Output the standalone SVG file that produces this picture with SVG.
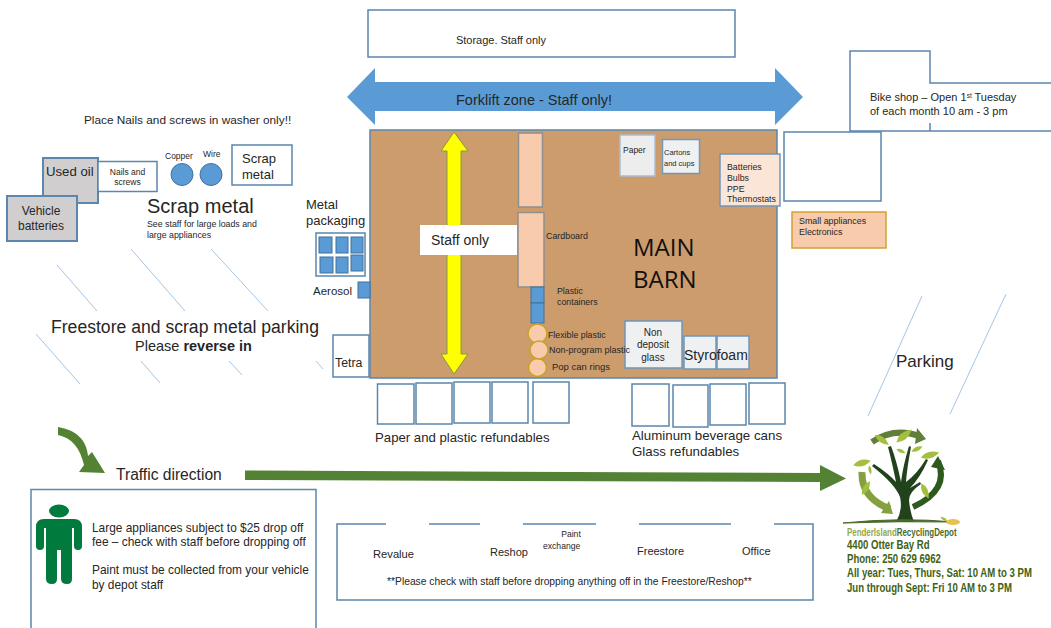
<svg xmlns="http://www.w3.org/2000/svg" width="1051" height="628" viewBox="0 0 1051 628">
<style>
text{font-family:"Liberation Sans",Arial,sans-serif;fill:#262626}
.b{fill:#fff;stroke:#5b86ad;stroke-width:1.5}
.g{fill:#d0cece;stroke:#5b86ad;stroke-width:2}
.l{fill:#ededed;stroke:#a9bccf;stroke-width:1.5}
.lb{fill:#eef0f2;stroke:#6f97ba;stroke-width:1.5}
.p{fill:#f8cbad;stroke:#8f8f8f;stroke-width:1.5}
.c{fill:#f8cbad;stroke:#c9a227;stroke-width:1.5}
.blue{fill:#5b9bd5;stroke:#41719c;stroke-width:1}
.h{stroke:#a4c5e6;stroke-width:1;fill:none}
.addr{font-weight:bold;fill:#3f6212;font-size:12px}
.big{font-family:"Open Sans",sans-serif;font-size:24px;fill:#111}
</style>
<defs><path id="leaf" d="M-10,0 Q-1,-7 10,0 Q-1,7 -10,0 Z" fill="#a4bf3f"/></defs>
<g id="storage"><rect class="b" x="368" y="10" width="367" height="47"/><text x="456" y="44" font-size="11" textLength="90">Storage. Staff only</text></g>
<g id="forklift"><polygon points="347,97 375,68 375,82 775,82 775,68 803,97 775,125 775,111 375,111 375,125" fill="#5b9bd5"/><text x="456" y="105" font-size="14.500">Forklift zone - Staff only!</text></g>
<g id="bike-shop"><polyline class="b" points="1051,131 850,131 850,51 930,51 930,83 1051,83"/><line x1="930" y1="123" x2="930" y2="131" stroke="#5b86ad" stroke-width="1.5"/><text x="870" y="101" font-size="11">Bike shop – Open 1<tspan font-size="6.5" dy="-3">st</tspan><tspan dy="3"> Tuesday</tspan></text><text x="870" y="115" font-size="11">of each month 10 am - 3 pm</text></g>
<g id="annex"><rect class="b" x="784" y="132" width="97" height="69"/></g>
<g id="main-barn"><rect x="370" y="130" width="407" height="248" fill="#cc9c6c" stroke="#5b86ad" stroke-width="1.5"/><text class="big" x="633" y="256">MAIN</text><text class="big" x="633" y="288">BARN</text></g>
<g id="staff-only-arrow"><polygon points="454,132 468,151 461,151 461,354 468,354 454,374 441,354 447,354 447,151 441,151" fill="#ffff00" stroke="#8a9a3a" stroke-width="1"/></g>
<g id="staff-only"><rect x="420" y="225" width="97" height="30" fill="#fff"/><text x="431" y="245" font-size="14">Staff only</text></g>
<g id="cardboard"><rect class="p" x="518.500" y="133" width="24" height="74"/><rect class="p" x="518" y="212.500" width="26" height="74.500"/><text x="546" y="239" font-size="8.900">Cardboard</text></g>
<g id="plastic-containers"><rect class="blue" x="531" y="287" width="13" height="16"/><rect class="blue" x="531" y="303" width="13" height="20"/><text x="557" y="294" font-size="8.800">Plastic</text><text x="557" y="305" font-size="8.800">containers</text></g>
<g id="flexible-plastic"><circle class="c" cx="537.500" cy="333.500" r="9.500"/><text x="548" y="338" font-size="8.800">Flexible plastic</text></g>
<g id="pop-can-rings"><circle class="c" cx="537.500" cy="367.500" r="9"/><text x="552" y="370" font-size="9.500">Pop can rings</text></g>
<g id="paper"><rect class="l" x="620" y="135" width="35" height="41"/><text x="623" y="153" font-size="8.500">Paper</text></g>
<g id="cartons"><rect class="lb" x="662.500" y="139.500" width="37" height="34"/><text x="664" y="155" font-size="7.500">Cartons</text><text x="664" y="166" font-size="7.500">and cups</text></g>
<g id="batteries"><rect x="720" y="154" width="60" height="52" fill="#fbe5d6" stroke="#6f97ba" stroke-width="1.500"/><text x="727" y="170" font-size="8.800">Batteries</text><text x="727" y="181" font-size="8.800">Bulbs</text><text x="727" y="192" font-size="8.800">PPE</text><text x="727" y="202" font-size="8.800">Thermostats</text></g>
<g id="small-appliances"><rect x="792" y="212" width="94" height="36" fill="#f8cbad" stroke="#d6a02f" stroke-width="1.500"/><text x="799" y="224" font-size="8.900">Small appliances</text><text x="799" y="235" font-size="8.900">Electronics</text></g>
<g id="non-deposit"><rect class="lb" x="625" y="321" width="57" height="47"/><text x="653" y="336" font-size="10" text-anchor="middle">Non</text><text x="653" y="348" font-size="10" text-anchor="middle">deposit</text><text x="653" y="361" font-size="10" text-anchor="middle">glass</text></g>
<g id="non-program"><circle class="c" cx="539" cy="350" r="9"/><text x="549" y="353" font-size="9">Non-program plastic</text></g>
<g id="styrofoam"><rect class="lb" x="684" y="336" width="32" height="33"/><rect class="lb" x="717" y="336" width="32" height="33"/><text x="684" y="360" font-size="14">Styrofoam</text></g>
<g id="metal-packaging"><text x="306" y="209" font-size="13">Metal</text><text x="306" y="225" font-size="13">packaging</text><rect class="b" x="316" y="233" width="49" height="43"/>
<g><rect class="blue" x="319" y="237" width="13" height="16"/><rect class="blue" x="336" y="237" width="12" height="16"/><rect class="blue" x="351" y="237" width="12" height="16"/><rect class="blue" x="320" y="257" width="13" height="16"/><rect class="blue" x="336" y="257" width="12" height="16"/><rect class="blue" x="351" y="255" width="12" height="16"/></g></g>
<g id="aerosol"><rect class="blue" x="358" y="282" width="12" height="16"/><text x="313" y="295" font-size="11.500">Aerosol</text></g>
<g id="tetra"><rect class="b" x="333" y="335" width="36" height="42"/><text x="335" y="367" font-size="12.300">Tetra</text></g>
<g id="refundable-bins"><rect class="b" x="377.500" y="384" width="36.500" height="40"/><rect class="b" x="416" y="383" width="36" height="41"/><rect class="b" x="454" y="382" width="36" height="41"/><rect class="b" x="492" y="382" width="36" height="41"/><rect class="b" x="533" y="382" width="36" height="41"/><rect class="b" x="632" y="384" width="37" height="42"/><rect class="b" x="673" y="385" width="35" height="42"/><rect class="b" x="710" y="384" width="36" height="41"/><rect class="b" x="749" y="383" width="36" height="41"/></g>
<text x="375" y="442" font-size="13.200">Paper and plastic refundables</text>
<text x="632" y="440" font-size="13.300">Aluminum beverage cans</text>
<text x="632" y="456" font-size="13.300">Glass refundables</text>
<text x="84" y="124" font-size="11.800">Place Nails and screws in washer only!!</text>
<g id="used-oil"><rect class="g" x="43" y="158" width="55" height="45"/><text x="46" y="176" font-size="13.200">Used oil</text></g>
<g id="nails"><rect class="b" x="98" y="161.500" width="59" height="30"/><text x="127.500" y="175" font-size="8.500" text-anchor="middle">Nails and</text><text x="127.500" y="185" font-size="8.500" text-anchor="middle">screws</text></g>
<g id="vehicle-batteries"><rect class="g" x="7" y="196" width="70" height="45"/><text x="41" y="215" font-size="12" text-anchor="middle">Vehicle</text><text x="41" y="230" font-size="12" text-anchor="middle">batteries</text></g>
<g id="copper"><circle class="blue" cx="182" cy="174.500" r="11"/><text x="165" y="159" font-size="8.500">Copper</text></g>
<g id="wire"><circle class="blue" cx="211" cy="174.500" r="11"/><text x="203" y="157" font-size="8.500">Wire</text></g>
<g id="scrap-metal-box"><rect class="b" x="232" y="145" width="60" height="40"/><text x="242" y="163" font-size="13">Scrap</text><text x="242" y="179" font-size="13">metal</text></g>
<text x="147" y="213" font-size="20">Scrap metal</text>
<text x="147" y="227" font-size="8.800">See staff for large loads and</text>
<text x="147" y="238" font-size="8.800">large appliances</text>
<text x="51" y="333" font-size="17.600">Freestore and scrap metal parking</text>
<text x="135" y="351" font-size="14.500">Please <tspan font-weight="bold">reverse in</tspan></text>
<g id="connectors" class="h"><line x1="57" y1="265" x2="97" y2="311"/><line x1="131" y1="249" x2="185" y2="311"/><line x1="211" y1="249" x2="268" y2="311"/><line x1="36" y1="334" x2="80" y2="384"/><line x1="141" y1="361" x2="160" y2="383"/><line x1="229" y1="361" x2="242" y2="375"/><line x1="316" y1="361" x2="323" y2="369"/><line x1="922" y1="296" x2="868" y2="416"/><line x1="1006" y1="294" x2="950" y2="414"/>
<path d="M58,427 C76,430 87,440 88,456 L92,452 L105,473 L79,472 L84,465 C80,448 72,438 58,435 Z" fill="#548235" stroke="none"/>
<polygon points="245,470.500 820,473 820,465 846,478.500 820,491 820,482 245,480" fill="#548235" stroke="none"/></g>
<text x="896" y="367" font-size="17">Parking</text>
<text x="116" y="480" font-size="15.600">Traffic direction</text>
<g id="notice"><polyline class="b" points="31,628 31,489.500 316,489.500 316,628"/>
<g fill="#007a3d"><ellipse cx="59" cy="511" rx="10" ry="6.500"/><path d="M44,519 H74 Q82,519 82,527 V546 Q82,550 78,550 Q74,550 74,546 V528 H72 V579 Q72,584 67,584 Q61,584 61,579 V550 H57 V579 Q57,584 52,584 Q46,584 46,579 V528 H44 V546 Q44,550 40,550 Q36,550 36,546 V527 Q36,519 44,519 Z"/></g>
<text x="92" y="532" font-size="11.900">Large appliances subject to $25 drop off</text><text x="92" y="546" font-size="11.900">fee – check with staff before dropping off</text><text x="92" y="574" font-size="11.900">Paint must be collected from your vehicle</text><text x="92" y="589" font-size="11.900">by depot staff</text></g>
<g id="buildings"><path d="M386,524 H337 V600 H813 V524 H774 M429,524 H480 M523,524 H596 M639,524 H731" fill="none" stroke="#5b86ad" stroke-width="1.500"/>
<text x="373" y="558" font-size="11.200">Revalue</text><text x="490" y="556" font-size="11">Reshop</text><text x="571" y="537" font-size="8.600" text-anchor="middle">Paint</text><text x="543" y="549" font-size="8.600">exchange</text><text x="637" y="555" font-size="11">Freestore</text><text x="742" y="555" font-size="11">Office</text><text x="387" y="585" font-size="10.300">**Please check with staff before dropping anything off in the Freestore/Reshop**</text></g>
<g id="logo">
<g fill="none" stroke-linecap="butt">
<path d="M872,442 Q894,427 919,436" stroke="#5f7f3a" stroke-width="6"/>
<path d="M913,507 Q950,490 938,461" stroke="#2f5a1f" stroke-width="6"/>
<path d="M862,472 Q861,498 890,509" stroke="#84a040" stroke-width="7"/></g>
<polygon points="917,428 926,439 915,444" fill="#5f7f3a"/>
<polygon points="938,456 945,470 931,467" fill="#2f5a1f"/>
<polygon points="893,514 881,513 889,501" fill="#84a040"/>
<path d="M896,522 Q903,510 900,497 Q895,484 872,466 L874,464 Q889,474 896,482 Q892,462 888,447 L891,446 Q897,462 901,482 Q903,466 909,446 L911,447 Q907,468 906,482 Q917,474 926,459 L928,460 Q920,478 910,488 L920,482 L921,484 Q909,492 909,500 Q910,512 914,522 Z" fill="#22421c"/>
<use href="#leaf" transform="translate(882,440) rotate(35) scale(.85)"/>
<use href="#leaf" transform="translate(904,436) rotate(-40) scale(1)"/>
<use href="#leaf" transform="translate(930,455) rotate(-15) scale(.95)"/>
<use href="#leaf" transform="translate(917,449) rotate(-25) scale(.6)"/>
<use href="#leaf" transform="translate(901,451) rotate(25) scale(.5)"/>
<use href="#leaf" transform="translate(862,463) rotate(-15) scale(.9)"/>
<use href="#leaf" transform="translate(866,488) rotate(-60) scale(.8)"/>
<use href="#leaf" transform="translate(925,491) rotate(65) scale(.85)"/>
<use href="#leaf" transform="translate(870,470) rotate(80) scale(.45)"/>
<path d="M843,523 Q900,517 955,522 Q900,521 843,523 Z" fill="#4a6a2a" stroke="#4a6a2a" stroke-width="1"/>
<use href="#leaf" transform="translate(944,519) rotate(30) scale(.4)"/>
<ellipse cx="953" cy="522" rx="7" ry="3" fill="#e8c050"/>
<text transform="translate(847,535.500) scale(.69,1)" font-size="11.500" font-weight="bold"><tspan fill="#94a84a">PenderIsland</tspan><tspan fill="#4a6a2a">RecyclingDepot</tspan></text>
<text class="addr" transform="translate(847,549) scale(.8,1)">4400 Otter Bay Rd</text>
<text class="addr" transform="translate(847,563) scale(.8,1)">Phone: 250 629 6962</text>
<text class="addr" transform="translate(847,577) scale(.8,1)">All year: Tues, Thurs, Sat: 10 AM to 3 PM</text>
<text class="addr" transform="translate(847,592) scale(.8,1)">Jun through Sept: Fri 10 AM to 3 PM</text></g>
</svg>
